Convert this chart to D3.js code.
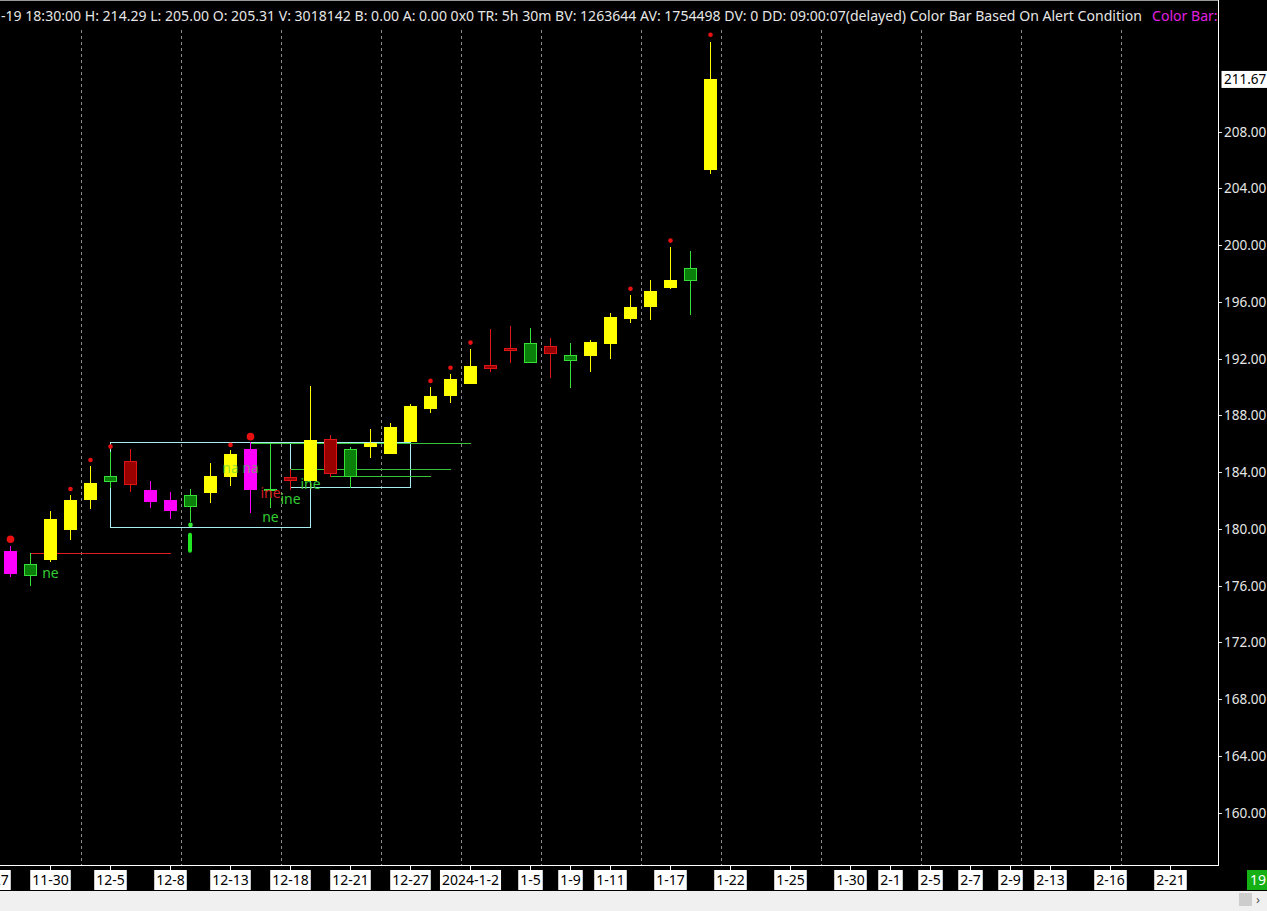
<!DOCTYPE html>
<html><head><meta charset="utf-8">
<script src="https://cdn.jsdelivr.net/npm/d3@7"></script>
<style>html,body{margin:0;padding:0;background:#000;overflow:hidden}svg{display:block}</style>
</head><body><svg id="c" width="1267" height="911"></svg>
<script>
// ---------- DATA ----------
const dates = ["11-27","11-28","11-29","11-30","12-1","12-4","12-5","12-6","12-7","12-8","12-11","12-12","12-13","12-14","12-15","12-18","12-19","12-20","12-21","12-22","12-26","12-27","12-28","12-29","2024-1-2","1-3","1-4","1-5","1-8","1-9","1-10","1-11","1-12","1-16","1-17","1-18","1-19","1-22","1-23","1-24","1-25","1-26","1-29","1-30","1-31","2-1","2-2","2-5","2-6","2-7","2-8","2-9","2-12","2-13","2-14","2-15","2-16","2-19","2-20","2-21"];
const barDates = ["11-28","11-29","11-30","12-1","12-4","12-5","12-6","12-7","12-8","12-11","12-12","12-13","12-14","12-15","12-18","12-19","12-20","12-21","12-22","12-26","12-27","12-28","12-29","2024-1-2","1-3","1-4","1-5","1-8","1-9","1-10","1-11","1-12","1-16","1-17","1-18","1-19"];
const opens  = [178.44,176.70,177.80,179.92,182.03,183.32,184.76,182.74,182.03,181.56,182.55,183.67,185.62,182.83,183.67,183.39,186.31,183.63,185.79,185.27,186.14,188.47,189.36,190.21,191.55,192.74,191.71,192.88,191.85,192.20,193.00,194.77,195.61,196.99,197.49,205.31];
const highs  = [178.79,178.27,181.26,182.39,184.43,185.43,185.60,183.37,182.62,182.81,184.62,185.55,186.14,186.02,184.19,190.07,186.61,185.79,187.01,187.48,188.80,190.02,190.91,192.67,194.08,194.31,194.13,193.47,193.12,193.31,195.19,196.48,197.53,199.86,199.58,214.29];
const lows   = [176.58,175.99,177.68,179.21,181.40,182.86,182.62,181.49,180.71,180.50,181.84,183.04,181.14,181.49,182.74,183.39,183.67,182.86,184.97,185.27,186.14,188.14,188.89,190.21,191.07,191.66,191.71,190.61,189.95,191.07,191.97,194.53,194.72,196.92,195.07,205.00];
const closes = [176.82,177.52,180.69,182.03,183.23,183.72,183.11,181.91,181.28,182.38,183.72,185.27,182.76,182.83,183.39,186.26,183.86,185.62,186.03,187.20,188.66,189.36,190.56,191.47,191.26,192.53,193.07,192.34,192.25,193.14,194.91,195.61,196.76,197.53,198.36,211.67];
const barColors = ["magenta","green","yellow","yellow","yellow","green","red","magenta","magenta","green","yellow","yellow","magenta","green","red","yellow","red","green","yellow","yellow","yellow","yellow","yellow","yellow","red","red","green","red","green","yellow","yellow","yellow","yellow","yellow","green","yellow"];

const tickLabels = ["11-27","11-30","12-5","12-8","12-13","12-18","12-21","12-27","2024-1-2","1-5","1-9","1-11","1-17","1-22","1-25","1-30","2-1","2-5","2-7","2-9","2-13","2-16","2-21"];
const priceTicks = [160,164,168,172,176,180,184,188,192,196,200,204,208];

const dotDates  = ["11-28","12-14","12-1","12-4","12-5","12-13","12-28","12-29","2024-1-2","1-12","1-17","1-19","12-11"];
const dotPrices = [179.26,186.49,182.80,184.85,185.79,185.91,190.42,191.35,193.12,196.92,200.31,214.82,180.27];
const dotKinds  = ["bigRed","bigRed","red","red","red","red","red","red","red","red","red","red","green"];

const markDates = ["12-11"];
const markTops = [179.71];
const markBottoms = [178.30];

const segStarts = ["11-29","12-14","12-18","12-20"];
const segEnds   = ["12-8","2024-1-2","12-29","12-28"];
const segPrices = [178.27,186.04,184.19,183.70];
const segColors = ["red","green","green","green"];

const boxStarts = ["12-5","12-18"];
const boxEnds   = ["12-19","12-27"];
const boxTops   = [186.10,186.10];
const boxBottoms= [180.11,182.93];

const labelDates  = ["11-30","12-13","12-14","12-15","12-18","12-15","12-19"];
const labelPrices = [176.54,183.93,183.93,182.17,181.75,180.50,182.81];
const labelTexts  = ["ne","na","na","ine","ine","ne","ine"];
const labelColors = ["green","fade","fade","red","green","green","green"];

const headerText = "-19 18:30:00 H: 214.29 L: 205.00 O: 205.31 V: 3018142 B: 0.00 A: 0.00 0x0 TR: 5h 30m BV: 1263644 AV: 1754498 DV: 0 DD: 09:00:07(delayed) Color Bar Based On Alert Condition";
const headerText2 = "Color Bar:";
const barCountText = "19";

// ---------- DRAW ----------
const W = 1267, H = 911;
const plotR = 1218, plotB = 866;
const FONT = "'Noto Sans', 'Open Sans', 'DejaVu Sans', sans-serif";
const svg = d3.select("#c");

const x = d3.scalePoint().domain(dates).range([-9.5, 1170.5]);
const y = d3.scaleLinear().domain([160, 208]).range([812.5, 131.5]);

const col = {
  yellow:{fill:"#ffff00",stroke:"#ffff00"},
  magenta:{fill:"#ff00ff",stroke:"#ff00ff"},
  green:{fill:"#0a7f0a",stroke:"#36e036"},
  red:{fill:"#990000",stroke:"#e01515"}
};
const lineCol = {red:"#e01c1c", green:"#36c436"};
const txtCol = {green:"#33cc33", red:"#d01e1e", fade:"#44cc44"};

svg.append("rect").attr("width",W).attr("height",H).attr("fill","#000");

// week-boundary dashed grid
function dow(lbl){
  const p = lbl.split("-").map(Number);
  let yr, m, d;
  if (p.length===3){ [yr,m,d]=p; } else { [m,d]=p; yr = m>=11?2023:2024; }
  return new Date(yr, m-1, d).getDay();
}
const gridDates = dates.filter((d,i)=> i>0 && dow(d) < dow(dates[i-1]));
svg.append("g").selectAll("line").data(gridDates).join("line")
  .attr("x1", d=>x(d)-9).attr("x2", d=>x(d)-9)
  .attr("y1", 0).attr("y2", plotB)
  .attr("stroke","#8c8c8c").attr("stroke-width",1).attr("stroke-dasharray","3,3")
  .attr("shape-rendering","crispEdges");

// boxes
svg.append("g").selectAll("rect").data(boxStarts.map((s,i)=>i)).join("rect")
  .attr("x", i=>x(boxStarts[i]))
  .attr("y", i=>Math.round(y(boxTops[i]))+0.5)
  .attr("width", i=>x(boxEnds[i])-x(boxStarts[i]))
  .attr("height", i=>Math.round(y(boxBottoms[i]))-Math.round(y(boxTops[i])))
  .attr("fill","none").attr("stroke","#a6eef2").attr("stroke-width",1)
  .attr("shape-rendering","crispEdges");

// horizontal segments
svg.append("g").selectAll("line").data(segStarts.map((s,i)=>i)).join("line")
  .attr("x1", i=>x(segStarts[i])).attr("x2", i=>x(segEnds[i]))
  .attr("y1", i=>Math.round(y(segPrices[i]))+0.5).attr("y2", i=>Math.round(y(segPrices[i]))+0.5)
  .attr("stroke", i=>lineCol[segColors[i]]).attr("stroke-width",1)
  .attr("shape-rendering","crispEdges");

// candles
const bars = barDates.map((d,k)=>({d, o:opens[k], h:highs[k], l:lows[k], c:closes[k], col:barColors[k]}));
const g = svg.append("g");
g.selectAll("line.wick").data(bars).join("line").attr("class","wick")
  .attr("x1", b=>x(b.d)).attr("x2", b=>x(b.d))
  .attr("y1", b=>y(b.h)).attr("y2", b=>y(b.l))
  .attr("stroke", b=>col[b.col].stroke).attr("stroke-width",1)
  .attr("shape-rendering","crispEdges");
g.selectAll("rect.body").data(bars).join("rect").attr("class","body")
  .attr("x", b=>x(b.d)-6)
  .attr("y", b=>Math.round(y(Math.max(b.o,b.c)))+0.5)
  .attr("width", 12)
  .attr("height", b=>Math.max(Math.round(y(Math.min(b.o,b.c)))-Math.round(y(Math.max(b.o,b.c)))-1, 1))
  .attr("fill", b=>col[b.col].fill).attr("stroke", b=>col[b.col].stroke).attr("stroke-width",1)
  .attr("shape-rendering","crispEdges");

// thick green mark
svg.append("g").selectAll("rect").data(markDates.map((d,i)=>i)).join("rect")
  .attr("x", i=>x(markDates[i])-2.5).attr("width",4)
  .attr("y", i=>y(markTops[i])).attr("height", i=>y(markBottoms[i])-y(markTops[i]))
  .attr("rx",2).attr("fill","#22e622");

// dots
svg.append("g").selectAll("circle").data(dotDates.map((d,i)=>i)).join("circle")
  .attr("cx", i=>x(dotDates[i])).attr("cy", i=>y(dotPrices[i]))
  .attr("r", i=>dotKinds[i]==="bigRed"?3.8:2.3)
  .attr("fill", i=>dotKinds[i]==="green"?"#33ee33":"#e81010");

// labels
svg.append("g").selectAll("text").data(labelDates.map((d,i)=>i)).join("text")
  .attr("x", i=>x(labelDates[i])).attr("y", i=>y(labelPrices[i]))
  .attr("text-anchor","middle")
  .attr("font-family",FONT).attr("font-size",14)
  .attr("fill", i=>txtCol[labelColors[i]])
  .attr("fill-opacity", i=>labelColors[i]==="fade"?0.65:1)
  .text(i=>labelTexts[i]);

// header
svg.append("rect").attr("x",0).attr("y",1).attr("width",plotR).attr("height",26).attr("fill","#000");
svg.append("line").attr("x1",0).attr("x2",plotR).attr("y1",0.5).attr("y2",0.5).attr("stroke","#9a9a9a");
const ht = svg.append("text").attr("x",1).attr("y",21).attr("font-family",FONT).attr("font-size",14)
  .attr("fill","#e6e6e6").text(headerText);
const len = ht.node().getComputedTextLength();
ht.attr("font-size", 14*1142/len);
svg.append("text").attr("x",1152).attr("y",21).attr("font-family",FONT).attr("font-size",14*1142/len)
  .attr("fill","#e020e0").text(headerText2);

// right axis area
svg.append("rect").attr("x",plotR+0.5).attr("y",0).attr("width",W-plotR).attr("height",plotB).attr("fill","#000");
const ya = svg.append("g");
ya.selectAll("line").data(priceTicks).join("line")
  .attr("x1",plotR+1).attr("x2",plotR+4)
  .attr("y1",d=>Math.round(y(d))+0.5).attr("y2",d=>Math.round(y(d))+0.5)
  .attr("stroke","#e6e6e6").attr("shape-rendering","crispEdges");
ya.selectAll("text").data(priceTicks).join("text")
  .attr("x",1224).attr("y",d=>y(d)+5)
  .attr("font-family",FONT).attr("font-size",13.5).attr("fill","#e6e6e6")
  .text(d=>d3.format(".2f")(d));
// last price tag
const lastC = closes[closes.length-1];
svg.append("rect").attr("x",1221.5).attr("y",y(lastC)-8.5).attr("width",50).attr("height",17).attr("fill","#fff");
svg.append("text").attr("x",1224).attr("y",y(lastC)+5).attr("font-family",FONT).attr("font-size",13.5)
  .attr("fill","#000").text(d3.format(".2f")(lastC));

// frame
svg.append("line").attr("x1",plotR+0.5).attr("x2",plotR+0.5).attr("y1",0).attr("y2",plotB).attr("stroke","#fff");
// x axis band
svg.append("rect").attr("x",0).attr("y",plotB).attr("width",W).attr("height",891-plotB).attr("fill","#000");
svg.append("line").attr("x1",0).attr("x2",plotR+1).attr("y1",plotB-0.5).attr("y2",plotB-0.5).attr("stroke","#fff");
const xa = svg.append("g");
const tk = xa.selectAll("g").data(tickLabels).join("g").attr("transform",d=>`translate(${x(d)},0)`);
tk.append("line").attr("x1",0).attr("x2",0).attr("y1",plotB).attr("y2",870).attr("stroke","#fff");
tk.append("text").attr("x",0).attr("y",885).attr("text-anchor","middle")
  .attr("font-family",FONT).attr("font-size",14).attr("fill","#000").text(d=>d)
  .each(function(){
    const bb = this.getBBox();
    d3.select(this.parentNode).insert("rect","text")
      .attr("x",bb.x-2).attr("y",870).attr("width",bb.width+4).attr("height",20).attr("fill","#fff");
  });
// bar count box
svg.append("rect").attr("x",1247).attr("y",870).attr("width",25).attr("height",20).attr("fill","#14b014");
svg.append("text").attr("x",1250).attr("y",885).attr("font-family",FONT).attr("font-size",14).attr("fill","#fff").text(barCountText);
// bottom strip
svg.append("rect").attr("x",0).attr("y",891).attr("width",W).attr("height",H-891).attr("fill","#f0f0f0");
svg.append("rect").attr("x",1239).attr("y",893).attr("width",13).attr("height",13).attr("fill","#cdcdcd");
svg.append("text").attr("x",1256).attr("y",904).attr("font-family",FONT).attr("font-size",13).attr("fill","#555").text("›");
</script></body></html>
